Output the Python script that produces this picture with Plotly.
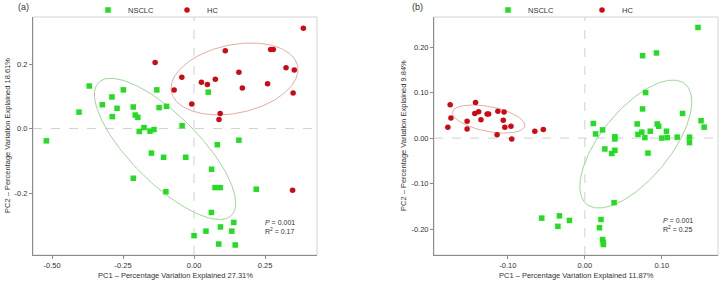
import numpy as np
import plotly.graph_objects as go

# ---------------- data (panel a) ----------------
a_nsclc_x = [-0.369, -0.405, -0.249, -0.289, -0.323, -0.271, -0.288, -0.214, -0.207, -0.198,
             -0.131, -0.123, -0.097, -0.176, -0.193, -0.155, -0.141, -0.042, -0.150, -0.107,
             -0.029, -0.214, 0.082, 0.158, 0.062, 0.050, 0.074, 0.092, 0.219, 0.061,
             0.140, 0.093, 0.042, 0.133, 0.000, 0.087, 0.145, -0.520, -0.099]
a_nsclc_y = [0.132, 0.051, 0.120, 0.098, 0.074, 0.063, 0.037, 0.067, 0.042, 0.035,
             0.120, 0.065, 0.069, 0.003, -0.009, -0.008, -0.003, 0.009, -0.076, -0.089,
             -0.089, -0.154, -0.050, -0.036, -0.126, 0.113, -0.183, -0.183, -0.188, -0.260,
             -0.291, -0.305, -0.318, -0.318, -0.332, -0.358, -0.361, -0.038, -0.196]
a_hc_x = [-0.137, -0.070, -0.043, 0.026, 0.047, 0.075, 0.158, -0.008, 0.092, 0.088,
          0.385, 0.110, 0.270, 0.279, 0.324, 0.353, 0.170, 0.259, 0.349, 0.347]
a_hc_y = [0.205, 0.120, 0.159, 0.144, 0.137, 0.153, 0.175, 0.076, 0.047, 0.028,
          0.311, 0.241, 0.245, 0.245, 0.189, 0.182, 0.126, 0.139, 0.110, -0.191]

# ---------------- data (panel b) ----------------
b_nsclc_x = [0.147, 0.075, 0.093, 0.079, 0.075, 0.127, 0.151, 0.155, 0.011, 0.023,
             0.014, 0.068, 0.094, 0.096, 0.085, 0.074, 0.069, 0.106, 0.039, 0.078,
             0.100, 0.107, 0.120, 0.136, 0.039, 0.136, 0.026, 0.039, 0.035, 0.082,
             0.038, 0.021, 0.019, 0.023, 0.024, 0.024, -0.056, -0.033, -0.035, -0.020]
b_nsclc_y = [0.243, 0.181, 0.187, 0.100, 0.064, 0.054, 0.038, 0.024, 0.032, 0.018,
             0.009, 0.031, 0.031, 0.026, 0.015, 0.013, 0.008, 0.015, 0.003, 0.001,
             0.000, 0.001, 0.002, 0.002, -0.002, -0.010, -0.024, -0.027, -0.034, -0.033,
             -0.142, -0.179, -0.197, -0.223, -0.229, -0.234, -0.176, -0.171, -0.194, -0.181]
b_hc_x = [-0.175, -0.174, -0.178, -0.142, -0.153, -0.153, -0.143, -0.138, -0.135, -0.127,
          -0.125, -0.113, -0.105, -0.106, -0.104, -0.096, -0.114, -0.095, -0.065, -0.054]
b_hc_y = [0.073, 0.044, 0.024, 0.078, 0.037, 0.020, 0.054, 0.058, 0.040, 0.053,
          0.053, 0.059, 0.057, 0.039, 0.024, 0.026, 0.007, -0.002, 0.015, 0.019]

# confidence ellipses: [centre x, centre y, axis1 dx, axis1 dy, axis2 dx, axis2 dy]
ell_a_nsclc = [-0.102, -0.063, 0.234, -0.206, 0.0845, 0.0744]
ell_a_hc = [0.1426, 0.154, 0.222, 0.0406, 0.0244, -0.1039]
ell_b_nsclc = [0.0662, -0.0132, 0.0639, 0.1321, 0.0348, -0.0481]
ell_b_hc = [-0.125, 0.0418, 0.0469, -0.0154, -0.00306, -0.0268]

groups = ["NSCLC", "HC"]
a_xticks = [-0.50, -0.25, 0.00, 0.25]
a_xticktext = ["-0.50", "-0.25", "0.00", "0.25"]
a_yticks = [-0.2, 0.0, 0.2]
a_yticktext = ["-0.2", "0.0", "0.2"]
b_xticks = [-0.10, 0.00, 0.10]
b_xticktext = ["-0.10", "0.00", "0.10"]
b_yticks = [-0.20, -0.10, 0.00, 0.10, 0.20]
b_yticktext = ["-0.20", "-0.10", "0.00", "0.10", "0.20"]
stats_a = ["0.001", "0.17"]
stats_b = ["0.001", "0.25"]
titles_x = ["PC1 \u2013 Percentage Variation Explained 27.31%",
            "PC1 \u2013 Percentage Variation Explained 11.87%"]
titles_y = ["PC2 \u2013 Percentage Variation Explained 18.61%",
            "PC2 \u2013 Percentage Variation Explained 9.84%"]

# ---------------- styling ----------------
W, H = 721, 284
FONT = "Liberation Sans, Arial, sans-serif"
GREEN = "#22dd22"
RED = "#cc0a14"
GREEN_ELL = "#9fd79a"
RED_ELL = "#e2ada6"
TXT = "#333333"

y_dom = [1 - 255 / H, 1 - 17 / H]
xa_dom = [33 / W, 317 / W]
xb_dom = [434 / W, 718 / W]


def ellipse(p):
    t = np.linspace(0, 2 * np.pi, 200)
    return (p[0] + np.cos(t) * p[2] + np.sin(t) * p[4],
            p[1] + np.cos(t) * p[3] + np.sin(t) * p[5])


fig = go.Figure()

panels = [
    ("x", "y", "legend", a_nsclc_x, a_nsclc_y, a_hc_x, a_hc_y, ell_a_nsclc, ell_a_hc),
    ("x2", "y2", "legend2", b_nsclc_x, b_nsclc_y, b_hc_x, b_hc_y, ell_b_nsclc, ell_b_hc),
]
for xr, yr, lg, nx, ny, hx, hy, en, eh in panels:
    ex, ey = ellipse(en)
    fig.add_trace(go.Scatter(x=ex, y=ey, mode="lines", line=dict(color=GREEN_ELL, width=1),
                             xaxis=xr, yaxis=yr, showlegend=False, hoverinfo="skip"))
    ex, ey = ellipse(eh)
    fig.add_trace(go.Scatter(x=ex, y=ey, mode="lines", line=dict(color=RED_ELL, width=1),
                             xaxis=xr, yaxis=yr, showlegend=False, hoverinfo="skip"))
    fig.add_trace(go.Scatter(x=nx, y=ny, mode="markers", name=groups[0],
                             marker=dict(symbol="square", size=5.5, color=GREEN),
                             xaxis=xr, yaxis=yr, legend=lg))
    fig.add_trace(go.Scatter(x=hx, y=hy, mode="markers", name=groups[1],
                             marker=dict(symbol="circle", size=5.5, color=RED),
                             xaxis=xr, yaxis=yr, legend=lg))

axis_common = dict(showgrid=False, zeroline=False, showline=True, linecolor="#8c8c8c",
                   linewidth=1, ticks="outside", ticklen=3, tickcolor="#8c8c8c",
                   automargin=False,
                   tickfont=dict(family=FONT, size=7.5, color=TXT))

fig.update_layout(
    width=W, height=H, margin=dict(l=0, r=0, t=0, b=0, autoexpand=False),
    paper_bgcolor="white", plot_bgcolor="white",
    font=dict(family=FONT, size=7.5, color=TXT),
    xaxis=dict(domain=xa_dom, range=[-0.567, 0.433], tickvals=a_xticks, ticktext=a_xticktext,
               anchor="y", **axis_common),
    yaxis=dict(domain=y_dom, range=[-0.392, 0.346], tickvals=a_yticks, ticktext=a_yticktext,
               anchor="x", **axis_common),
    xaxis2=dict(domain=xb_dom, range=[-0.196, 0.173], tickvals=b_xticks, ticktext=b_xticktext,
                anchor="y2", **axis_common),
    yaxis2=dict(domain=y_dom, range=[-0.257, 0.266], tickvals=b_yticks, ticktext=b_yticktext,
                anchor="x2", **axis_common),
    legend=dict(orientation="h", x=88 / W, y=1 - 10 / H, xanchor="left", yanchor="middle",
                entrywidth=34, entrywidthmode="pixels",
                font=dict(family=FONT, size=7.5, color=TXT), bgcolor="rgba(0,0,0,0)"),
    legend2=dict(orientation="h", x=488 / W, y=1 - 10 / H, xanchor="left", yanchor="middle",
                 entrywidth=49, entrywidthmode="pixels",
                 font=dict(family=FONT, size=7.5, color=TXT), bgcolor="rgba(0,0,0,0)"),
    showlegend=True,
)

# frame (light) and dashed zero lines
for xr, yr in [("x", "y"), ("x2", "y2")]:
    fig.add_shape(type="rect", xref=f"{xr} domain", yref=f"{yr} domain", x0=0, x1=1, y0=0, y1=1,
                  line=dict(color="#d4d4d4", width=1), layer="below")
    fig.add_shape(type="line", xref=xr, yref=f"{yr} domain", x0=0, x1=0, y0=0, y1=1,
                  line=dict(color="#d0d0d0", width=1, dash="dash"), layer="below")
    fig.add_shape(type="line", xref=f"{xr} domain", yref=yr, x0=0, x1=1, y0=0, y1=0,
                  line=dict(color="#d0d0d0", width=1, dash="dash"), layer="below")

# axis titles
for i, (xd, lab_x, lab_y, ytx) in enumerate([(xa_dom, titles_x[0], titles_y[0], 7),
                                              (xb_dom, titles_x[1], titles_y[1], 403)]):
    fig.add_annotation(xref="paper", yref="paper", x=(xd[0] + xd[1]) / 2, y=1 - 275 / H,
                       xanchor="center", yanchor="middle", showarrow=False, text=lab_x,
                       font=dict(family=FONT, size=7.5, color=TXT))
    fig.add_annotation(xref="paper", yref="paper", x=ytx / W, y=(y_dom[0] + y_dom[1]) / 2,
                       xanchor="center", yanchor="middle", showarrow=False, text=lab_y,
                       textangle=-90, font=dict(family=FONT, size=7.5, color=TXT))

# statistics annotations
for xr, yr, st, xx, yy in [("x", "y", stats_a, 0.81, 0.118), ("x2", "y2", stats_b, 0.798, 0.128)]:
    fig.add_annotation(xref=f"{xr} domain", yref=f"{yr} domain", x=xx, y=yy,
                       xanchor="left", yanchor="middle", align="left", showarrow=False,
                       text=f"<i>P</i> = {st[0]}<br>R<sup>2</sup> = {st[1]}",
                       font=dict(family=FONT, size=7, color=TXT))

# panel letters
for lab, xx in [("(a)", 16 / W), ("(b)", 410 / W)]:
    fig.add_annotation(xref="paper", yref="paper", x=xx, y=1 - 7 / H, xanchor="left",
                       yanchor="middle", showarrow=False, text=lab,
                       font=dict(family=FONT, size=9, color=TXT))

fig.write_html("out.html", config={"displayModeBar": False},
               post_script="document.body.style.margin='0';document.body.style.overflow='hidden';")
